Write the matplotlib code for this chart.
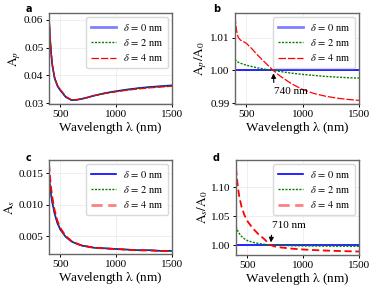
import matplotlib
matplotlib.use("Agg")
import matplotlib.pyplot as plt

plt.rcParams['font.family'] = ['Liberation Serif', 'DejaVu Serif']
plt.rcParams['mathtext.fontset'] = 'stix'

# longitud de onda (nm) donde se leyeron los valores
wl = [400, 410, 420, 430, 450, 475, 500, 550, 600, 650, 700, 740, 800,
      900, 1000, 1100, 1200, 1300, 1400, 1500]

# absorcion p, delta = 0
ap0 = [0.0605, 0.0530, 0.0475, 0.0435, 0.0390, 0.0362, 0.0347, 0.0322,
       0.0311, 0.0312, 0.0316, 0.0320, 0.0327, 0.0336, 0.0343, 0.0349,
       0.0354, 0.0358, 0.0361, 0.0364]
# cocientes Ap/A0
ap_r2 = [1.0034, 1.0030, 1.0027, 1.0025, 1.0022, 1.0019, 1.0016, 1.0012,
         1.0008, 1.0005, 1.0002, 1.0000, 0.9997, 0.9992, 0.9988, 0.9985,
         0.9982, 0.9980, 0.9978, 0.9977]
ap_r4 = [1.0165, 1.0130, 1.0110, 1.0100, 1.0092, 1.0088, 1.0083, 1.0066,
         1.0047, 1.0030, 1.0013, 1.0000, 0.9983, 0.9960, 0.9942, 0.9930,
         0.9922, 0.9916, 0.9912, 0.9909]

# absorcion s, delta = 0
as0 = [0.0145, 0.0128, 0.0114, 0.0103, 0.0086, 0.0071, 0.0061, 0.0049,
       0.0042, 0.0038, 0.0035, 0.0034, 0.0032, 0.0031, 0.0030, 0.0029,
       0.0028, 0.0028, 0.0027, 0.0027]
as_r2 = [1.032, 1.027, 1.023, 1.020, 1.015, 1.011, 1.008, 1.005,
         1.003, 1.0015, 1.0005, 1.0000, 0.9995, 0.9990, 0.9987, 0.9985,
         0.9983, 0.9982, 0.9981, 0.9980]
as_r4 = [1.133, 1.112, 1.096, 1.083, 1.066, 1.052, 1.042, 1.029,
         1.019, 1.011, 1.001, 0.9980, 0.9960, 0.9940, 0.9925, 0.9915,
         0.9907, 0.9900, 0.9895, 0.9890]

labels = [r'$\delta\,=\,0$ nm', r'$\delta\,=\,2$ nm', r'$\delta\,=\,4$ nm']

ap2 = [a * r for a, r in zip(ap0, ap_r2)]
ap4 = [a * r for a, r in zip(ap0, ap_r4)]
as2 = [a * r for a, r in zip(as0, as_r2)]
as4 = [a * r for a, r in zip(as0, as_r4)]
ones = [1.0 for _ in wl]

fig = plt.figure(figsize=(3.74, 2.89), dpi=100)
W, H = 374, 289


def make_ax(l, t, r, b):
    ax = fig.add_axes([l / W, 1 - b / H, (r - l) / W, (b - t) / H])
    ax.set_xlim(400, 1500)
    ax.set_xticks([500, 1000, 1500])
    ax.grid(color='0.93', lw=0.6)
    ax.set_axisbelow(True)
    for s in ax.spines.values():
        s.set_color('0.4')
        s.set_linewidth(1.0)
    ax.tick_params(labelsize=8, length=2.5, width=0.7, pad=1.5)
    ax.set_xlabel(r'Wavelength $\mathrm{\lambda}$ (nm)', fontsize=9.5, labelpad=1)
    return ax


def legend(ax, soft):
    leg = ax.legend(loc='upper right', fontsize=7.5, handlelength=2.4,
                    handletextpad=0.7, labelspacing=0.4, borderpad=0.45,
                    framealpha=1, edgecolor='0.85', borderaxespad=0.4)
    # la linea marcada aparece mas clara y gruesa en la leyenda
    h = leg.get_lines()[soft]
    h.set_alpha(0.5)
    h.set_linewidth(2)


def lines(ax, y0, y2, y4, soft):
    ax.plot(wl, y0, color='blue', lw=1.2, label=labels[0])
    ax.plot(wl, y2, color='green', lw=1.0, ls=(0, (1.5, 1)), label=labels[1])
    if soft == 2:
        ax.plot(wl, y4, color='red', lw=1.3, ls=(0, (4, 2)), label=labels[2])
    else:
        ax.plot(wl, y4, color='red', lw=0.9, ls=(0, (6, 1.5)), label=labels[2])
    legend(ax, soft)


# a
ax = make_ax(49, 13, 172, 104)
lines(ax, ap0, ap2, ap4, 0)
ax.set_ylim(0.0297, 0.0624)
ax.set_yticks([0.03, 0.04, 0.05, 0.06])
ax.set_ylabel(r'$\mathrm{A}_p$', fontsize=9.5, labelpad=1)

# b
ax = make_ax(235, 13, 359, 104)
lines(ax, ones, ap_r2, ap_r4, 0)
ax.set_ylim(0.9898, 1.0175)
ax.set_yticks([0.99, 1.00, 1.01])
ax.set_ylabel(r'$\mathrm{A}_p/\mathrm{A}_0$', fontsize=9.5, labelpad=1)
ax.annotate('', xy=(740, 1.0), xytext=(745, 0.9955),
            arrowprops=dict(arrowstyle='-|>', color='black', lw=0.8,
                            mutation_scale=7))
ax.text(750, 0.9935, '740 nm', fontsize=8, ha='left', va='center')

# c
ax = make_ax(49, 160, 172, 254)
lines(ax, as0, as2, as4, 2)
ax.set_ylim(0.0022, 0.0171)
ax.set_yticks([0.005, 0.010, 0.015])
ax.set_ylabel(r'$\mathrm{A}_s$', fontsize=9.5, labelpad=1)

# d
ax = make_ax(236, 160, 359, 255)
lines(ax, ones, as_r2, as_r4, 2)
ax.set_ylim(0.983, 1.147)
ax.set_yticks([1.00, 1.05, 1.10])
ax.set_ylabel(r'$\mathrm{A}_s/\mathrm{A}_0$', fontsize=9.5, labelpad=1)
ax.annotate('', xy=(710, 1.0), xytext=(720, 1.022),
            arrowprops=dict(arrowstyle='-|>', color='black', lw=0.8,
                            mutation_scale=7))
ax.text(722, 1.034, '710 nm', fontsize=8, ha='left', va='center')

for lab, x, y in [('a', 26, 9), ('b', 213, 9), ('c', 26, 158), ('d', 213, 158)]:
    fig.text(x / W, 1 - y / H, lab, fontsize=7, fontweight='bold',
             family='DejaVu Sans', ha='left', va='center')

fig.savefig('out.png', dpi=100)
